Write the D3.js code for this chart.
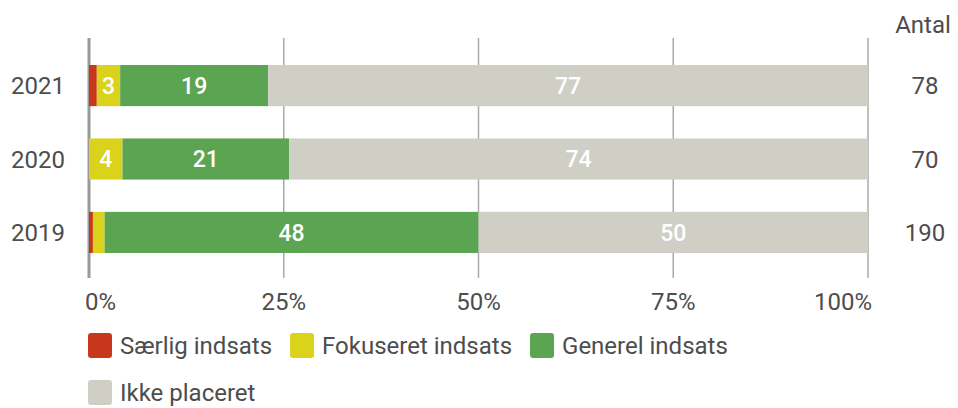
<!DOCTYPE html>
<html>
<head>
<meta charset="utf-8">
<script src="https://cdn.jsdelivr.net/npm/d3@7"></script>
<style>
  body { margin: 0; background: #fff; }
  text { font-family: Roboto, "Noto Sans", sans-serif; }
</style>
</head>
<body>
<svg id="chart"></svg>
<script>
const years = ["2021", "2020", "2019"];
const categories = ["Særlig indsats", "Fokuseret indsats", "Generel indsats", "Ikke placeret"];
const saerlig = [1, 0, 0.5];
const fokuseret = [3, 4.3, 1.5];
const generel = [19, 21.4, 48];
const ikke = [77, 74.3, 50];
const antal = [78, 70, 190];
const ticks = [0, 25, 50, 75, 100];

const colors = ["#c8361b", "#dad21b", "#5ba552", "#cfcfc6"];

const width = 958;
const height = 408;
const fontSize = 24;
const textColor = "#4d4d4d";

const svg = d3.select("#chart")
    .attr("width", width)
    .attr("height", height);

const xScale = d3.scaleLinear()
    .domain([0, 100])
    .range([89, 868]);

const yScale = d3.scaleBand()
    .domain(years)
    .range([43, 275])
    .paddingInner(0.44)
    .paddingOuter(0.3);

// gridlines
svg.append("g")
    .selectAll("line")
    .data(ticks)
    .join("line")
    .attr("x1", d => xScale(d))
    .attr("x2", d => xScale(d))
    .attr("y1", 38)
    .attr("y2", 278)
    .attr("stroke", d => d === 0 ? "#999" : "#aaa")
    .attr("stroke-width", d => d === 0 ? 3 : 1.5);

// stacked bars
const rows = years.map((y, i) => ({ year: y, values: [saerlig[i], fokuseret[i], generel[i], ikke[i]] }));
const stack = d3.stack().keys([0, 1, 2, 3]).value((d, k) => d.values[k]);
const series = stack(rows);

const groups = svg.append("g")
    .selectAll("g")
    .data(series)
    .join("g")
    .attr("fill", (d, i) => colors[i]);

groups.selectAll("rect")
    .data(d => d)
    .join("rect")
    .attr("x", d => xScale(d[0]))
    .attr("y", d => yScale(d.data.year))
    .attr("width", d => xScale(d[1]) - xScale(d[0]))
    .attr("height", yScale.bandwidth());

groups.selectAll("text")
    .data(d => d.filter(p => p[1] - p[0] >= 2.5))
    .join("text")
    .attr("x", d => (xScale(d[0]) + xScale(d[1])) / 2)
    .attr("y", d => yScale(d.data.year) + yScale.bandwidth() / 2)
    .attr("dy", "0.36em")
    .attr("text-anchor", "middle")
    .attr("fill", "#fff")
    .attr("font-size", 23)
    .attr("font-weight", 500)
    .text(d => Math.round(d[1] - d[0]));

// year labels
svg.append("g")
    .selectAll("text")
    .data(years)
    .join("text")
    .attr("x", 65)
    .attr("y", d => yScale(d) + yScale.bandwidth() / 2)
    .attr("dy", "0.36em")
    .attr("text-anchor", "end")
    .attr("fill", textColor)
    .attr("font-size", fontSize)
    .text(d => d);

// antal column
svg.append("text")
    .attr("x", 923)
    .attr("y", 33)
    .attr("text-anchor", "middle")
    .attr("fill", textColor)
    .attr("font-size", fontSize)
    .text("Antal");

svg.append("g")
    .selectAll("text")
    .data(antal)
    .join("text")
    .attr("x", 925)
    .attr("y", (d, i) => yScale(years[i]) + yScale.bandwidth() / 2)
    .attr("dy", "0.36em")
    .attr("text-anchor", "middle")
    .attr("fill", textColor)
    .attr("font-size", fontSize)
    .text(d => d);

// x tick labels
svg.append("g")
    .selectAll("text")
    .data(ticks)
    .join("text")
    .attr("x", d => d === 0 ? xScale(d) - 4 : d === 100 ? xScale(d) + 4 : xScale(d))
    .attr("y", 310)
    .attr("text-anchor", d => d === 0 ? "start" : d === 100 ? "end" : "middle")
    .attr("fill", textColor)
    .attr("font-size", fontSize)
    .text(d => d + "%");

// legend
const legend = svg.append("g");
let lx = 88, ly = 333;
categories.forEach((c, i) => {
    const item = legend.append("g");
    item.append("rect")
        .attr("width", 24)
        .attr("height", 25)
        .attr("rx", 3)
        .attr("fill", colors[i]);
    const t = item.append("text")
        .attr("x", 32)
        .attr("y", 21)
        .attr("fill", textColor)
        .attr("font-size", fontSize)
        .text(c);
    const w = 32 + t.node().getComputedTextLength();
    if (lx + w > 760) { lx = 88; ly += 47; }
    item.attr("transform", `translate(${lx},${ly})`);
    lx += w + 18;
});
</script>
</body>
</html>
